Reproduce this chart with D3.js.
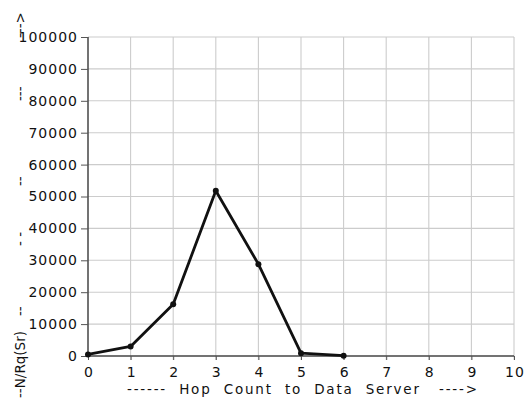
<!DOCTYPE html>
<html>
<head>
<meta charset="utf-8">
<script src="https://cdn.jsdelivr.net/npm/d3@7"></script>
<style>
  body { margin: 0; background: #fff; }
  svg { display: block; }
  text { font-family: "DejaVu Sans", sans-serif; fill: #111; }
</style>
</head>
<body>
<div id="chart"></div>
<script>
// hop count vs number of requests served
const hops = [0, 1, 2, 3, 4, 5, 6];
const requests = [500, 3000, 16200, 51800, 28800, 900, 100];

const xTickValues = [0, 1, 2, 3, 4, 5, 6, 7, 8, 9, 10];
const yTickValues = [0, 10000, 20000, 30000, 40000, 50000, 60000, 70000, 80000, 90000, 100000];

const xTitle = "------  Hop  Count  to  Data  Server   ---->";
// y title is broken up by the tick labels, only these bits show
const yTitleParts = ["--N/Rq(Sr)", "--", "- -", "--", "---", "--->"];

const W = 524, H = 404;
const margin = { top: 37, right: 10, bottom: 48, left: 88 };

const svg = d3.select("#chart").append("svg")
    .attr("width", W)
    .attr("height", H);

const x = d3.scaleLinear()
    .domain([0, 10])
    .range([margin.left, W - margin.right]);

const y = d3.scaleLinear()
    .domain([0, 100000])
    .range([H - margin.bottom, margin.top]);

// grid
svg.append("g")
    .selectAll("line")
    .data(xTickValues.slice(1))
    .join("line")
    .attr("x1", d => x(d)).attr("x2", d => x(d))
    .attr("y1", y(100000)).attr("y2", y(0) + 4)
    .attr("stroke", "#cccccc")
    .attr("stroke-width", 1.1);

svg.append("g")
    .selectAll("line")
    .data(yTickValues.slice(1))
    .join("line")
    .attr("x1", x(0)).attr("x2", x(10))
    .attr("y1", d => y(d)).attr("y2", d => y(d))
    .attr("stroke", "#cccccc")
    .attr("stroke-width", 1.1);

// axes
const xAxis = svg.append("g")
    .attr("transform", `translate(0, ${y(0)})`)
    .call(d3.axisBottom(x).tickValues(xTickValues).tickSize(4).tickPadding(7).tickFormat(d3.format("d")));

const yAxis = svg.append("g")
    .attr("transform", `translate(${x(0)}, 0)`)
    .call(d3.axisLeft(y).tickValues(yTickValues).tickSize(7).tickPadding(3).tickFormat(d3.format("d")));

[xAxis, yAxis].forEach(g => {
    g.select(".domain").attr("stroke", "#444").attr("stroke-width", 1.5);
    g.selectAll(".tick line").attr("stroke", "#555");
    g.selectAll("text")
        .style("font-family", "DejaVu Sans, sans-serif")
        .style("font-size", "14px")
        .style("letter-spacing", "1px")
        .attr("fill", "#111");
});
xAxis.select(".domain").attr("d", `M${x(0)},0H${x(10)}`);
yAxis.select(".domain").attr("d", `M0,${y(100000)}V${y(0)}`);
xAxis.selectAll("text").attr("dx", "0.5px");

// line + markers
const pts = hops.map((h, i) => ({ h, v: requests[i] }));

svg.append("path")
    .datum(pts)
    .attr("fill", "none")
    .attr("stroke", "#111")
    .attr("stroke-width", 2.8)
    .attr("stroke-linejoin", "round")
    .attr("d", d3.line().x(d => x(d.h)).y(d => y(d.v)));

svg.append("g")
    .selectAll("circle")
    .data(pts)
    .join("circle")
    .attr("cx", d => x(d.h))
    .attr("cy", d => y(d.v))
    .attr("r", 3)
    .attr("fill", "#111");

// x title
svg.append("text")
    .attr("x", 127)
    .attr("y", 394)
    .attr("textLength", 350)
    .attr("lengthAdjust", "spacing")
    .style("white-space", "pre")
    .style("font-size", "13.5px")
    .text(xTitle);

// y title, rotated, pieces sit in the gaps between tick labels
const yPos = [398, 316, 246, 186, 101, 38];
const yt = svg.append("text")
    .attr("transform", "translate(25,0) rotate(-90)")
    .style("font-size", "13.5px");
yt.selectAll("tspan")
    .data(yTitleParts)
    .join("tspan")
    .attr("x", (d, i) => -yPos[i])
    .text(d => d);
</script>
</body>
</html>
